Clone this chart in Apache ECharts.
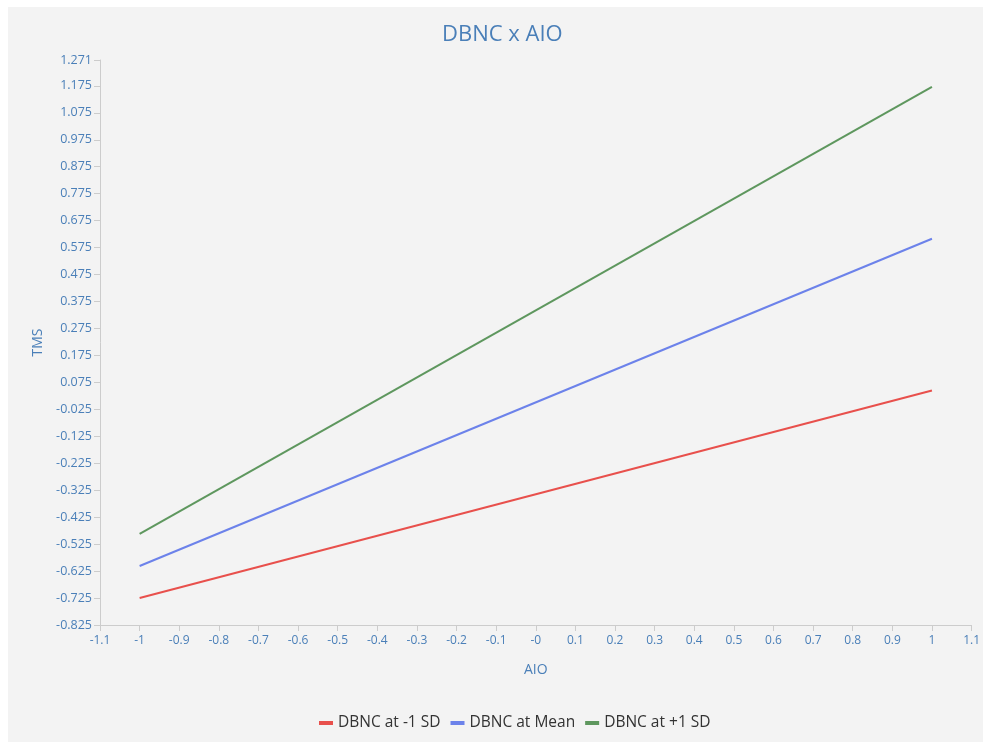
<!DOCTYPE html>
<html>
<head>
<meta charset="utf-8">
<script src="https://cdn.jsdelivr.net/npm/echarts@6/dist/echarts.min.js"></script>
<style>
html,body{margin:0;padding:0;background:#ffffff;width:983px;height:742px;overflow:hidden;}
#chart{position:absolute;left:8px;top:7px;width:975px;height:735px;}
</style>
</head>
<body>
<div id="chart"></div>
<script>
const xValues = [-1, 1];
const lowSD = [-0.725, 0.045];
const meanSD = [-0.606, 0.608];
const highSD = [-0.487, 1.171];
const seriesNames = ['DBNC at -1 SD', 'DBNC at Mean', 'DBNC at +1 SD'];
const seriesColors = ['#e8504c', '#6c82ea', '#5e975e'];
const yMin = -0.825, yMax = 1.271, yStep = 0.1;
const xMin = -1.1, xMax = 1.1, xStep = 0.1;

const labelColor = '#4a7fb8';
const fontFam = '"Open Sans", "Noto Sans", sans-serif';

function pairs(vals){ return xValues.map((x,i)=>[x, vals[i]]); }

const chart = echarts.init(document.getElementById('chart'));
chart.setOption({
  backgroundColor: '#f3f3f3',
  animation: false,
  textStyle: {fontFamily: fontFam},
  title: {
    text: 'DBNC x AIO',
    left: 429,
    top: 12,
    textStyle: {color: labelColor, fontSize: 22, fontWeight: 'normal', fontFamily: fontFam}
  },
  legend: {
    bottom: 6,
    left: 306,
    icon: 'rect',
    itemWidth: 14,
    itemHeight: 4,
    itemGap: 10,
    textStyle: {color: '#333', fontSize: 15.5, fontFamily: fontFam},
    data: seriesNames
  },
  grid: {left: 92, right: 4, top: 53, bottom: 117, containLabel: false},
  xAxis: {
    type: 'value',
    min: xMin, max: xMax, interval: xStep,
    name: 'AIO',
    nameLocation: 'middle',
    nameGap: 38,
    nameTextStyle: {color: labelColor, fontSize: 14},
    axisLine: {show: true, onZero: false, lineStyle: {color: '#cccccc'}},
    axisTick: {show: true, length: 6, lineStyle: {color: '#cccccc'}},
    splitLine: {show: false},
    axisLabel: {
      color: labelColor, fontSize: 12, margin: 10, showMinLabel: true, showMaxLabel: true,
      formatter: function(v){ var r = Math.round(v*10)/10; if (Math.abs(r) < 1e-9) return '-0'; return String(r); }
    }
  },
  yAxis: {
    type: 'value',
    min: yMin, max: yMax, interval: yStep,
    name: 'TMS',
    nameLocation: 'middle',
    nameGap: 52,
    nameTextStyle: {color: labelColor, fontSize: 14},
    axisLine: {show: true, onZero: false, lineStyle: {color: '#cccccc'}},
    axisTick: {show: true, length: 6, lineStyle: {color: '#cccccc'}},
    splitLine: {show: false},
    axisLabel: {
      color: labelColor, fontSize: 12.5, margin: 8, showMinLabel: true, showMaxLabel: true,
      formatter: function(v){ return (Math.round(v*1000)/1000).toFixed(3); }
    }
  },
  series: [
    {name: seriesNames[0], type: 'line', data: pairs(lowSD), showSymbol: false, lineStyle: {width: 2, color: seriesColors[0]}, itemStyle: {color: seriesColors[0]}},
    {name: seriesNames[1], type: 'line', data: pairs(meanSD), showSymbol: false, lineStyle: {width: 2, color: seriesColors[1]}, itemStyle: {color: seriesColors[1]}},
    {name: seriesNames[2], type: 'line', data: pairs(highSD), showSymbol: false, lineStyle: {width: 2, color: seriesColors[2]}, itemStyle: {color: seriesColors[2]}}
  ]
});
</script>
</body>
</html>
